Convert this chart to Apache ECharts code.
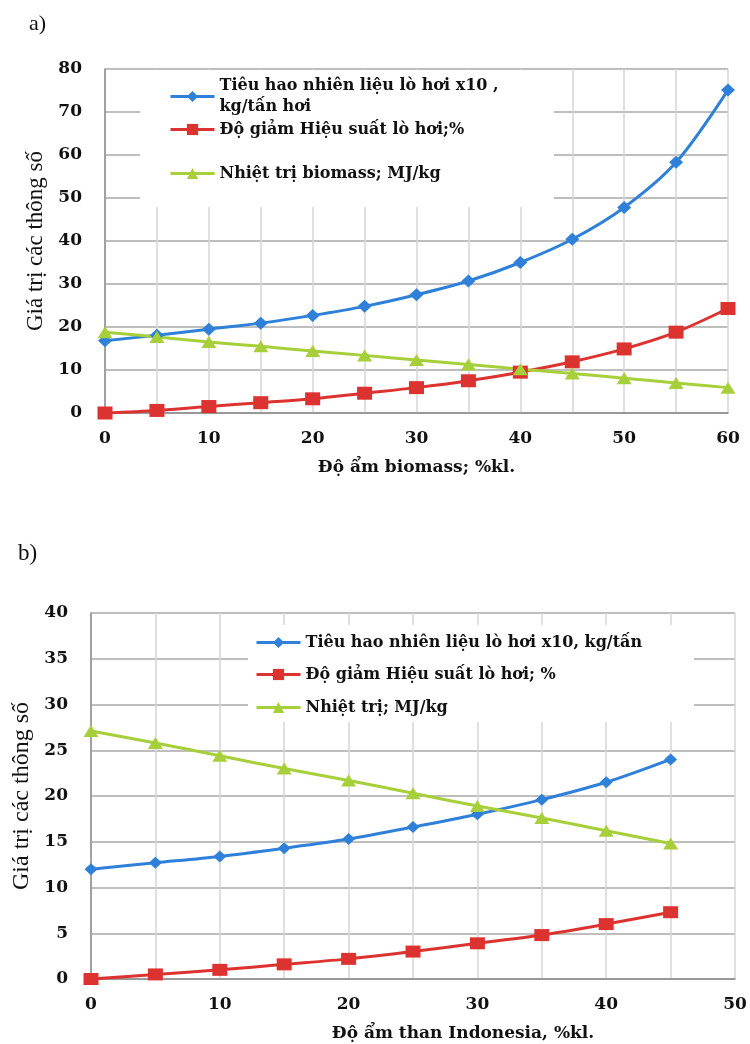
<!DOCTYPE html>
<html>
<head>
<meta charset="utf-8">
<script src="https://cdn.jsdelivr.net/npm/echarts@6/dist/echarts.min.js"></script>
<style>html,body{margin:0;padding:0;background:#fff}#c{width:750px;height:1044px}</style>
</head>
<body>
<div id="c"></div>
<script>
// ---- Chart a) : biomass moisture ----
const xA = [0, 5, 10, 15, 20, 25, 30, 35, 40, 45, 50, 55, 60];
const fuelA = [16.8, 18.1, 19.5, 20.9, 22.7, 24.8, 27.5, 30.7, 35.0, 40.4, 47.8, 58.3, 75.1];
const effA = [0, 0.6, 1.5, 2.4, 3.3, 4.6, 5.9, 7.5, 9.5, 11.9, 14.9, 18.8, 24.3];
const heatA = [18.8, 17.7, 16.5, 15.5, 14.4, 13.4, 12.3, 11.3, 10.2, 9.2, 8.1, 7.0, 5.9];
const namesA = ['Tiêu hao nhiên liệu lò hơi x10 ,\nkg/tấn hơi', 'Độ giảm Hiệu suất lò hơi;%', 'Nhiệt trị biomass; MJ/kg'];

// ---- Chart b) : Indonesian coal moisture ----
const xB = [0, 5, 10, 15, 20, 25, 30, 35, 40, 45];
const fuelB = [12.0, 12.7, 13.4, 14.3, 15.3, 16.6, 18.0, 19.6, 21.5, 24.0];
const effB = [0, 0.5, 1.0, 1.6, 2.2, 3.0, 3.9, 4.8, 6.0, 7.3];
const heatB = [27.1, 25.8, 24.4, 23.0, 21.7, 20.3, 18.9, 17.6, 16.2, 14.8];
const namesB = ['Tiêu hao nhiên liệu lò hơi x10, kg/tấn', 'Độ giảm Hiệu suất lò hơi; %', 'Nhiệt trị; MJ/kg'];

const BLUE = '#2f80d8', RED = '#dd3330', GREEN = '#a6cf3a';
const BOLD = 'DejaVu Serif';
const pairs = (xs, ys) => xs.map((x, i) => [x, ys[i]]);

function line(name, xs, ys, color, symbol, size, gi) {
  return {
    name, type: 'line', xAxisIndex: gi, yAxisIndex: gi,
    data: pairs(xs, ys), smooth: 0.3,
    symbol, symbolSize: size,
    lineStyle: { color, width: 3 },
    itemStyle: { color },
    z: 3
  };
}

function xAxis(gi, max, name, nameShift) {
  return {
    gridIndex: gi, type: 'value', min: 0, max, interval: 10,
    name, nameLocation: 'middle', nameGap: 46,
    nameTextStyle: { fontFamily: BOLD, fontWeight: 'bold', fontSize: 17, color: '#111', padding: nameShift },
    axisLine: { lineStyle: { color: '#8c8c8c', width: 1.5 } },
    axisTick: { show: false },
    axisLabel: { fontFamily: BOLD, fontWeight: 'bold', fontSize: 17, color: '#111', margin: 17 },
    splitLine: { show: true, lineStyle: { color: '#d6d6d6', width: 1.5 } },
    minorTick: { show: false, splitNumber: 2 },
    minorSplitLine: { show: true, lineStyle: { color: '#d6d6d6', width: 1.5 } }
  };
}
function yAxis(gi, max, interval, nameGap, nameSize) {
  return {
    gridIndex: gi, type: 'value', min: 0, max, interval,
    name: 'Giá trị các thông số', nameLocation: 'middle', nameGap,
    nameTextStyle: { fontFamily: 'Liberation Serif', fontSize: nameSize, color: '#111' },
    axisLine: { show: true, lineStyle: { color: '#8c8c8c', width: 1.5 } },
    axisTick: { show: false },
    axisLabel: { fontFamily: BOLD, fontWeight: 'bold', fontSize: 17, color: '#111', margin: 23 },
    splitLine: { show: true, lineStyle: { color: '#a8a8a8', width: 1.5 } }
  };
}
function leg(name, color, left, top, extra) {
  return Object.assign({
    data: [name], left, top, orient: 'vertical', selectedMode: false,
    itemWidth: 44, itemHeight: 14, padding: 0, z: 5,
    lineStyle: { width: 3 },
    textStyle: { fontFamily: BOLD, fontWeight: 'bold', fontSize: 16, color: '#111', lineHeight: 21 }
  }, extra || {});
}

const chart = echarts.init(document.getElementById('c'), null, { renderer: 'canvas' });
chart.setOption({
  backgroundColor: '#fff',
  animation: false,
  title: [
    { text: 'a)', left: 24, top: 8, textStyle: { fontFamily: 'Liberation Serif', fontWeight: 'normal', fontSize: 22, color: '#111' } },
    { text: 'b)', left: 13, top: 537, textStyle: { fontFamily: 'Liberation Serif', fontWeight: 'normal', fontSize: 23, color: '#111' } }
  ],
  grid: [
    { left: 105, right: 22, top: 69, height: 344 },
    { left: 91, right: 15, top: 613, height: 366 }
  ],
  xAxis: [
    xAxis(0, 60, 'Độ ẩm biomass; %kl.', [0, 0, 0, 0]),
    xAxis(1, 50, 'Độ ẩm than Indonesia, %kl.', [0, 0, 0, 100])
  ],
  yAxis: [
    yAxis(0, 80, 10, 52, 23),
    yAxis(1, 40, 5, 56, 24)
  ],
  graphic: [
    { type: 'rect', shape: { x: 140, y: 70, width: 414, height: 137 }, style: { fill: '#fff' }, z: 1, silent: true },
    { type: 'rect', shape: { x: 248, y: 625, width: 446, height: 97 }, style: { fill: '#fff' }, z: 1, silent: true }
  ],
  legend: [
    leg(namesA[0], BLUE, 169, 65, { textStyle: { fontFamily: BOLD, fontWeight: 'bold', fontSize: 16, color: '#111', lineHeight: 21, padding: [21, 0, 0, 0] } }),
    leg(namesA[1], RED, 169, 119),
    leg(namesA[2], GREEN, 169, 163),
    leg(namesB[0], BLUE, 255, 632),
    leg(namesB[1], RED, 255, 664),
    leg(namesB[2], GREEN, 255, 697)
  ],
  series: [
    line(namesA[0], xA, fuelA, BLUE, 'diamond', [14, 13], 0),
    line(namesA[1], xA, effA, RED, 'rect', [15, 13], 0),
    line(namesA[2], xA, heatA, GREEN, 'triangle', [15, 12], 0),
    line(namesB[0], xB, fuelB, BLUE, 'diamond', [13, 12], 1),
    line(namesB[1], xB, effB, RED, 'rect', [15, 12], 1),
    line(namesB[2], xB, heatB, GREEN, 'triangle', [15, 12], 1)
  ]
});
</script>
</body>
</html>
